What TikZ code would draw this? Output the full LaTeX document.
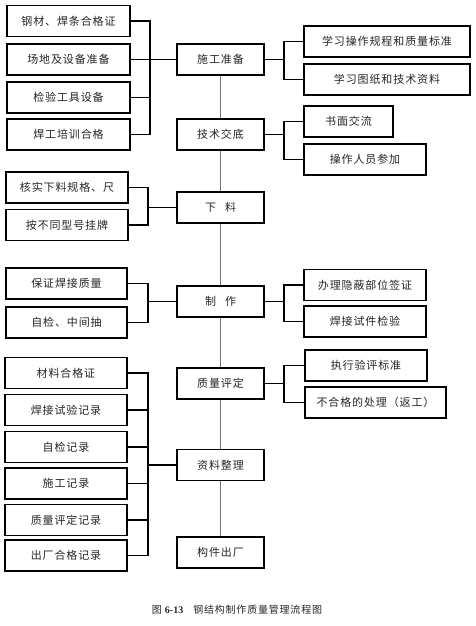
\documentclass[tikz,border=0pt]{standalone}
\usepackage{fontspec}
\newfontfamily\cjk[LetterSpace=8]{Noto Sans CJK SC}
\newfontfamily\capnum{Liberation Serif}
\begin{document}
\begin{tikzpicture}[x=1pt,y=-1pt,
  box/.style={draw=black,line width=1.3pt,fill=white,inner sep=0pt,minimum height=31,
    font=\cjk\fontsize{11}{13}\selectfont,text=black!85},
  conn/.style={line width=1.6pt,black},
  spine/.style={line width=0.9pt,black!55}]
\useasboundingbox (0,0) rectangle (475,626);
% left group 1
\node[box,minimum width=123] (a1) at (68.5,21) {钢材、焊条合格证};
\node[box,minimum width=123] (a2) at (68.5,59.5) {场地及设备准备};
\node[box,minimum width=123] (a3) at (68.5,97.5) {检验工具设备};
\node[box,minimum width=123] (a4) at (68.5,134.5) {焊工培训合格};
% main column
\node[box,minimum width=87] (m1) at (220.5,59.5) {施工准备};
\node[box,minimum width=87] (m2) at (220.5,134.5) {技术交底};
\node[box,minimum width=87] (m3) at (220.5,207.5) {下\hspace{9pt}料};
\node[box,minimum width=87] (m4) at (220.5,301.5) {制\hspace{9pt}作};
\node[box,minimum width=87] (m5) at (220.5,383.5) {质量评定};
\node[box,minimum width=87] (m6) at (220.5,465) {资料整理};
\node[box,minimum width=87] (m7) at (220.5,552.5) {构件出厂};
% right boxes
\node[box,minimum width=166] (r1) at (387,41.5) {学习操作规程和质量标准};
\node[box,minimum width=166] (r2) at (387,79.5) {学习图纸和技术资料};
\node[box,minimum width=89] (r3) at (348.5,121.5) {书面交流};
\node[box,minimum width=122] (r4) at (365,159.5) {操作人员参加};
\node[box,minimum width=122] (r5) at (365,285) {办理隐蔽部位签证};
\node[box,minimum width=122] (r6) at (365,321.5) {焊接试件检验};
\node[box,minimum width=122] (r7) at (366,365.5) {执行验评标准};
\node[box,minimum width=141] (r8) at (375.5,402.5) {不合格的处理（返工）};
% left group 2
\node[box,minimum width=122] (b1) at (67,187.5) {核实下料规格、尺};
\node[box,minimum width=122] (b2) at (67,225) {按不同型号挂牌};
\node[box,minimum width=121] (c1) at (66.5,283.5) {保证焊接质量};
\node[box,minimum width=121] (c2) at (66.5,322.5) {自检、中间抽};
\node[box,minimum width=122] (d1) at (66,373) {材料合格证};
\node[box,minimum width=122] (d2) at (66,410) {焊接试验记录};
\node[box,minimum width=122] (d3) at (66,447) {自检记录};
\node[box,minimum width=122] (d4) at (66,483.5) {施工记录};
\node[box,minimum width=122] (d5) at (66,520) {质量评定记录};
\node[box,minimum width=122] (d6) at (66,555.5) {出厂合格记录};
% bus coordinates
\coordinate (busA) at (150,0);
\coordinate (busL) at (148,0);
\coordinate (busR) at (284,0);
% spine
\draw[spine] (m1.south) -- (m2.north);
\draw[spine] (m2.south) -- (m3.north);
\draw[spine] (m3.south) -- (m4.north);
\draw[spine] (m4.south) -- (m5.north);
\draw[spine] (m5.south) -- (m6.north);
\draw[spine] (m6.south) -- (m7.north);
% left connectors group 1
\draw[conn] (a1.east) -- (a1.east -| busA) -- (a4.east -| busA) -- (a4.east);
\draw[conn] (a2.east) -- (m1.west);
\draw[conn] (a3.east) -- (a3.east -| busA);
% group b
\draw[conn] (b1.east) -- (b1.east -| busL) -- (b2.east -| busL) -- (b2.east);
\draw[conn] (m3.west -| busL) -- (m3.west);
% group c
\draw[conn] (c1.east) -- (c1.east -| busL) -- (c2.east -| busL) -- (c2.east);
\draw[conn] (m4.west -| busL) -- (m4.west);
% group d
\draw[conn] (d1.east) -- (d1.east -| busL) -- (d6.east -| busL) -- (d6.east);
\draw[conn] (d2.east) -- (d2.east -| busL);
\draw[conn] (d3.east) -- (d3.east -| busL);
\draw[conn] (d4.east) -- (d4.east -| busL);
\draw[conn] (d5.east) -- (d5.east -| busL);
\draw[conn] (m6.west -| busL) -- (m6.west);
% right connectors
\draw[conn] (m1.east) -- (m1.east -| busR);
\draw[conn] (r1.west) -- (r1.west -| busR) -- (r2.west -| busR) -- (r2.west);
\draw[conn] (m2.east) -- (m2.east -| busR);
\draw[conn] (r3.west) -- (r3.west -| busR) -- (r4.west -| busR) -- (r4.west);
\draw[conn] (m4.east) -- (m4.east -| busR);
\draw[conn] (r5.west) -- (r5.west -| busR) -- (r6.west -| busR) -- (r6.west);
\draw[conn] (m5.east) -- (m5.east -| busR);
\draw[conn] (r7.west) -- (r7.west -| busR) -- (r8.west -| busR) -- (r8.west);
% caption
\node[font=\cjk\fontsize{10}{12}\selectfont,text=black!85] (cap) at (237,610)
  {图 {\capnum\bfseries 6-13}\hspace{10pt}钢结构制作质量管理流程图};
\end{tikzpicture}
\end{document}
